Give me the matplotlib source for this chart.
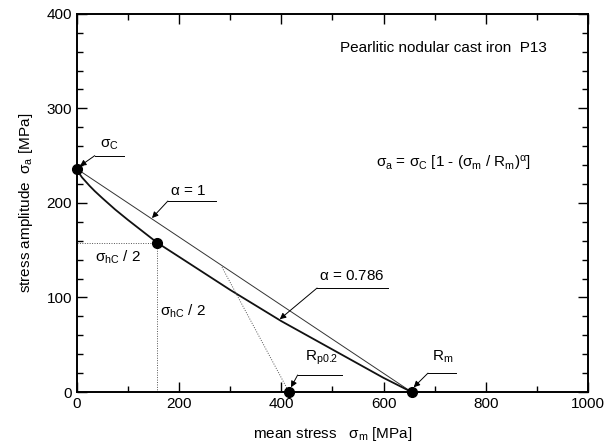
import matplotlib
matplotlib.use('Agg')
import matplotlib.pyplot as plt
from matplotlib.ticker import MultipleLocator

plt.rcParams['font.family'] = ['Liberation Sans', 'DejaVu Sans']
plt.rcParams['mathtext.fontset'] = 'custom'
plt.rcParams['mathtext.rm'] = 'Liberation Sans'
plt.rcParams['mathtext.it'] = 'Liberation Sans'

# Haigh diagram data
sigma_c = 236
r_m = 655
r_p02 = 415
half_x, half_y = 157, 158

# alpha = 0.786 curve
curve_x = [0, 2, 5, 10, 15, 25, 35, 50, 75, 100, 157, 200, 300, 400, 500, 600, 655]
curve_y = [236, 233.5, 231, 227, 224, 218, 212.5, 205, 193, 182, 158, 143, 108, 75, 45, 15, 0]

# alpha = 1 straight line
line_x = [0, r_m]
line_y = [sigma_c, 0]

# yield line towards Rp0.2
yield_x = [284, r_p02]
yield_y = [132, 0]

fig = plt.figure(figsize=(6.15, 4.46), dpi=100)
ax = fig.add_axes([0.125, 0.121, 0.831, 0.848])

ax.plot(line_x, line_y, color='#333333', lw=0.7)
ax.plot(curve_x, curve_y, color='#111111', lw=1.3)
ax.plot(yield_x, yield_y, color='#555555', lw=0.7, ls=(0, (1, 1.5)))
ax.plot([0, half_x], [half_y, half_y], color='#555555', lw=0.7, ls=(0, (1, 1.5)))
ax.plot([half_x, half_x], [half_y, 0], color='#555555', lw=0.7, ls=(0, (1, 1.5)))

ax.plot([0, half_x, r_p02, r_m], [sigma_c, half_y, 0, 0], 'o', color='black',
        ms=7, clip_on=False, zorder=5)

ax.set_xlim(0, 1000)
ax.set_ylim(0, 400)
ax.xaxis.set_major_locator(MultipleLocator(200))
ax.xaxis.set_minor_locator(MultipleLocator(100))
ax.yaxis.set_major_locator(MultipleLocator(100))
ax.yaxis.set_minor_locator(MultipleLocator(20))
ax.tick_params(which='both', direction='in', top=True, right=True, labelsize=11)
ax.tick_params(which='major', length=7, width=1)
ax.tick_params(which='minor', length=4, width=1)
for s in ax.spines.values():
    s.set_linewidth(1.4)

ax.set_xlabel(r'mean stress   $\sigma_\mathrm{m}$ [MPa]', fontsize=11, labelpad=10)
ax.set_ylabel(r'stress amplitude  $\sigma_\mathrm{a}$ [MPa]', fontsize=11, labelpad=8)

ax.text(515, 364, 'Pearlitic nodular cast iron  P13', fontsize=11, va='center')
ax.text(737, 242, r'$\sigma_\mathrm{a}$ = $\sigma_\mathrm{C}$ [1 - ($\sigma_\mathrm{m}$ / R$_\mathrm{m}$)$^\alpha$]',
        fontsize=11, ha='center', va='center')

ax.text(80, 142, r'$\sigma_\mathrm{hC}$ / 2', fontsize=11, ha='center', va='center')
ax.text(207, 85, r'$\sigma_\mathrm{hC}$ / 2', fontsize=11, ha='center', va='center')

# leader annotations: (text, text pos, leader start x, leader end x, leader y, arrow tip)
labels = [
    (r'$\sigma_\mathrm{C}$', (64, 262), 35, 92, 250, (6, 239)),
    (r'$\alpha$ = 1', (217, 213), 178, 272, 202, (147, 184)),
    (r'$\alpha$ = 0.786', (538, 123), 470, 609, 110, (397, 77)),
    (r'R$_\mathrm{p0.2}$', (479, 36), 432, 519, 18, (419, 5)),
    (r'R$_\mathrm{m}$', (716, 37), 687, 742, 20, (659, 5)),
]
for txt, pos, x0, x1, ly, tip in labels:
    ax.text(pos[0], pos[1], txt, fontsize=11, ha='center', va='center')
    ax.plot([x0, x1], [ly, ly], color='black', lw=0.7)
    ax.annotate('', xy=tip, xytext=(x0, ly),
                arrowprops=dict(arrowstyle='-|>', color='black', lw=0.7,
                                mutation_scale=9, shrinkA=0, shrinkB=0))

fig.savefig('out.png', dpi=100)
